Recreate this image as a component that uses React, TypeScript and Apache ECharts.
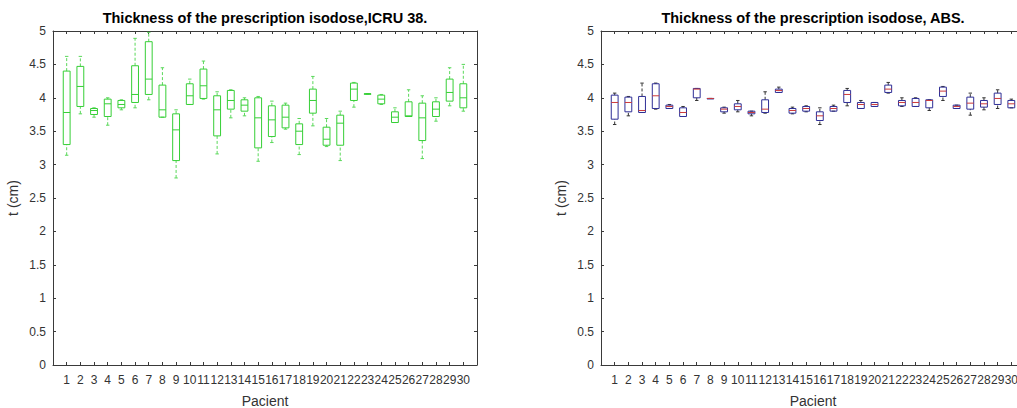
import React, { useEffect, useRef } from "react";
import * as echarts from "echarts";

const patients = [1, 2, 3, 4, 5, 6, 7, 8, 9, 10, 11, 12, 13, 14, 15, 16, 17, 18, 19, 20, 21, 22, 23, 24, 25, 26, 27, 28, 29, 30];

// ICRU 38 (left)
const icruMax = [4.62, 4.62, 3.85, 4.0, 3.97, 4.89, 4.98, 4.45, 3.82, 4.28, 4.55, 4.09, 4.12, 4.0, 4.02, 3.95, 3.92, 3.69, 4.32, 3.69, 3.8, 4.23, 4.06, 4.05, 3.85, 4.12, 4.03, 4.0, 4.45, 4.5];
const icruQ3 = [4.4, 4.47, 3.84, 3.98, 3.96, 4.48, 4.84, 4.19, 3.76, 4.21, 4.43, 4.03, 4.11, 3.97, 4.0, 3.88, 3.89, 3.61, 4.13, 3.56, 3.74, 4.22, 4.06, 4.04, 3.79, 3.94, 3.92, 3.94, 4.28, 4.21];
const icruMed = [3.78, 4.17, 3.81, 3.91, 3.9, 4.05, 4.28, 3.82, 3.52, 4.03, 4.18, 3.82, 3.96, 3.89, 3.7, 3.67, 3.71, 3.5, 3.96, 3.38, 3.62, 4.13, 4.06, 3.98, 3.71, 3.73, 3.7, 3.83, 4.08, 4.0];
const icruQ1 = [3.3, 3.87, 3.75, 3.72, 3.85, 3.93, 4.05, 3.71, 3.06, 3.9, 3.99, 3.43, 3.83, 3.8, 3.25, 3.42, 3.55, 3.3, 3.77, 3.29, 3.29, 3.96, 4.06, 3.91, 3.63, 3.72, 3.36, 3.72, 3.95, 3.85];
const icruMin = [3.14, 3.76, 3.71, 3.59, 3.82, 3.85, 3.97, 3.71, 2.8, 3.9, 3.98, 3.16, 3.7, 3.73, 3.05, 3.33, 3.53, 3.15, 3.58, 3.27, 3.06, 3.86, 4.06, 3.9, 3.63, 3.72, 3.09, 3.65, 3.88, 3.8];

// ABS (right)
const absMax = [4.07, 4.02, 4.22, 4.22, 3.9, 3.87, 4.14, 3.99, 3.86, 3.96, 3.8, 4.09, 4.16, 3.86, 3.88, 3.85, 3.89, 4.14, 3.96, 3.93, 4.23, 4.0, 4.0, 3.97, 4.17, 3.89, 4.07, 4.0, 4.12, 3.98];
const absQ3 = [4.04, 4.01, 4.02, 4.21, 3.89, 3.85, 4.14, 3.99, 3.85, 3.91, 3.8, 3.97, 4.13, 3.84, 3.87, 3.79, 3.87, 4.11, 3.93, 3.93, 4.19, 3.96, 3.99, 3.97, 4.16, 3.89, 4.01, 3.96, 4.07, 3.96];
const absMed = [3.93, 3.93, 3.81, 4.03, 3.87, 3.78, 4.13, 3.99, 3.83, 3.87, 3.78, 3.83, 4.11, 3.81, 3.84, 3.73, 3.84, 4.05, 3.9, 3.9, 4.13, 3.93, 3.93, 3.96, 4.1, 3.87, 3.92, 3.91, 3.99, 3.91];
const absQ1 = [3.68, 3.79, 3.78, 3.84, 3.84, 3.72, 4.0, 3.99, 3.79, 3.82, 3.76, 3.78, 4.08, 3.77, 3.8, 3.66, 3.8, 3.93, 3.84, 3.87, 4.08, 3.88, 3.87, 3.85, 4.02, 3.84, 3.83, 3.86, 3.9, 3.85];
const absMin = [3.6, 3.73, 3.78, 3.83, 3.84, 3.72, 3.96, 3.99, 3.77, 3.79, 3.73, 3.77, 4.08, 3.76, 3.79, 3.6, 3.8, 3.88, 3.84, 3.87, 4.07, 3.87, 3.87, 3.81, 3.96, 3.84, 3.74, 3.82, 3.84, 3.85];

const yTicks = [0, 0.5, 1, 1.5, 2, 2.5, 3, 3.5, 4, 4.5, 5];

const titles = ["Thickness of the prescription isodose,ICRU 38.", "Thickness of the prescription isodose, ABS."];
const xName = "Pacient";
const yName = "t (cm)";

const FONT = '"Liberation Sans", Arial, Helvetica, sans-serif';
const AXIS = "#3a3a3a";
const TXT = "#333333";

function rows(mn: number[], q1: number[], md: number[], q3: number[], mx: number[]) {
  return patients.map((p, i) => [p, mn[i], q1[i], md[i], q3[i], mx[i]]);
}

function makeRender(boxColor: string, medColor: string, whiskerColor: string, capColor: string) {
  return (params: any, api: any) => {
    const x = api.value(0);
    const lo = api.coord([x, api.value(1)]);
    const q1 = api.coord([x, api.value(2)]);
    const md = api.coord([x, api.value(3)]);
    const q3 = api.coord([x, api.value(4)]);
    const hi = api.coord([x, api.value(5)]);
    const bw = api.size([0.5, 0])[0];
    const half = bw / 2;
    const cap = bw / 4;
    const cx = lo[0];
    const dash = { stroke: whiskerColor, lineWidth: 1, lineDash: [3, 2], fill: null };
    return {
      type: "group",
      children: [
        { type: "line", shape: { x1: cx, y1: q3[1], x2: cx, y2: hi[1] }, style: dash },
        { type: "line", shape: { x1: cx, y1: lo[1], x2: cx, y2: q1[1] }, style: dash },
        { type: "line", shape: { x1: cx - cap, y1: hi[1], x2: cx + cap, y2: hi[1] }, style: { stroke: capColor, lineWidth: 1 } },
        { type: "line", shape: { x1: cx - cap, y1: lo[1], x2: cx + cap, y2: lo[1] }, style: { stroke: capColor, lineWidth: 1 } },
        {
          type: "rect",
          shape: { x: cx - half, y: q3[1], width: bw, height: Math.max(q1[1] - q3[1], 0.5) },
          style: { fill: "none", stroke: boxColor, lineWidth: 1 },
        },
        { type: "line", shape: { x1: cx - half, y1: md[1], x2: cx + half, y2: md[1] }, style: { stroke: medColor, lineWidth: 1 } },
      ],
    };
  };
}

function xAxes(gridIndex: number) {
  const base = {
    type: "value",
    gridIndex,
    min: 0,
    max: 31,
    interval: 1,
    splitLine: { show: false },
    axisLine: { show: true, onZero: false, lineStyle: { color: AXIS, width: 1 } },
    axisTick: { show: true, inside: true, length: 3, lineStyle: { color: AXIS } },
  };
  return [
    {
      ...base,
      position: "bottom",
      name: xName,
      nameLocation: "middle",
      nameGap: 29,
      nameTextStyle: { fontFamily: FONT, fontSize: 14, color: TXT },
      axisLabel: {
        show: true,
        margin: 9,
        fontFamily: FONT,
        fontSize: 12,
        color: TXT,
        showMinLabel: false,
        showMaxLabel: false,
        formatter: (v: number) => (patients.indexOf(v) >= 0 ? String(v) : ""),
      },
    },
    { ...base, position: "top", axisLabel: { show: false } },
  ];
}

function yAxes(gridIndex: number) {
  const base = {
    type: "value",
    gridIndex,
    min: yTicks[0],
    max: yTicks[yTicks.length - 1],
    interval: 0.5,
    splitLine: { show: false },
    axisLine: { show: true, onZero: false, lineStyle: { color: AXIS, width: 1 } },
    axisTick: { show: true, inside: true, length: 3, lineStyle: { color: AXIS } },
  };
  return [
    {
      ...base,
      position: "left",
      name: yName,
      nameLocation: "middle",
      nameGap: 33,
      nameRotate: 90,
      nameTextStyle: { fontFamily: FONT, fontSize: 14, color: TXT },
      axisLabel: { show: true, margin: 7, fontFamily: FONT, fontSize: 12, color: TXT },
    },
    { ...base, position: "right", axisLabel: { show: false } },
  ];
}

export default function App() {
  const ref = useRef<HTMLDivElement>(null);
  useEffect(() => {
    if (!ref.current) return;
    const chart = echarts.init(ref.current, null, { renderer: "svg" });
    const grids = [
      { left: 53, top: 31, width: 424, height: 334, containLabel: false, outerBoundsMode: "none" },
      { left: 601, top: 31, width: 424, height: 334, containLabel: false, outerBoundsMode: "none" },
    ];
    const option: any = {
      animation: false,
      backgroundColor: "#ffffff",
      grid: grids,
      xAxis: [...xAxes(0), ...xAxes(1)],
      yAxis: [...yAxes(0), ...yAxes(1)],
      graphic: [
        {
          type: "text",
          x: 265,
          y: 18,
          style: { text: titles[0], font: `bold 14.5px ${FONT}`, fill: "#000", textAlign: "center", textVerticalAlign: "middle" },
        },
        {
          type: "text",
          x: 813,
          y: 18,
          style: { text: titles[1], font: `bold 14.5px ${FONT}`, fill: "#000", textAlign: "center", textVerticalAlign: "middle" },
        },
      ],
      series: [
        {
          type: "custom",
          xAxisIndex: 0,
          yAxisIndex: 0,
          renderItem: makeRender("#36cf36", "#36cf36", "#5ad85a", "#5ad85a"),
          encode: { x: 0, y: [1, 2, 3, 4, 5] },
          data: rows(icruMin, icruQ1, icruMed, icruQ3, icruMax),
          silent: true,
        },
        {
          type: "custom",
          xAxisIndex: 2,
          yAxisIndex: 2,
          renderItem: makeRender("#2e2e96", "#cc3a3a", "#333333", "#333333"),
          encode: { x: 0, y: [1, 2, 3, 4, 5] },
          data: rows(absMin, absQ1, absMed, absQ3, absMax),
          silent: true,
        },
      ],
    };
    chart.setOption(option);
    return () => chart.dispose();
  }, []);
  return (
    <div
      ref={ref}
      style={{ position: "fixed", left: 0, top: 0, width: 1017, height: 408, background: "#fff" }}
    />
  );
}
